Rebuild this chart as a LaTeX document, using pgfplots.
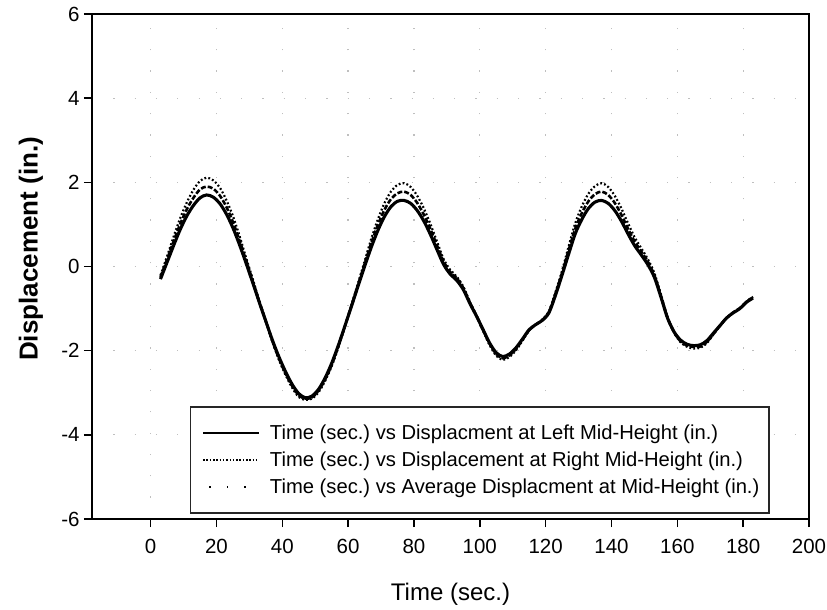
\documentclass[border=0pt]{standalone}
\usepackage{fontspec}
\setmainfont{Liberation Sans}
\usepackage{pgfplots}
\pgfplotsset{compat=1.18}
\usetikzlibrary{calc}
\frenchspacing
\begin{document}
\begin{tikzpicture}
\begin{axis}[
 scale only axis, width=717bp, height=505bp,
 xmin=-17.8, xmax=200, ymin=-6, ymax=6,
 xtick={0,20,...,200}, ytick={-6,-4,...,6},
 tick align=outside, major tick length=8bp,
 xtick pos=bottom, ytick pos=left,
 axis line style={line width=1.5bp},
 every tick/.style={line width=1.5bp, black},
 grid=major, major grid style={gray!50, line width=1.3bp, dash pattern=on 1.3bp off 20bp},
 ticklabel style={font=\fontsize{20.5bp}{24bp}\selectfont},
 xticklabel style={yshift=-9bp},
 yticklabel style={xshift=-1bp},
 /pgf/number format/assume math mode=true,
 xlabel={Time (sec.)},
 xlabel style={font=\fontsize{24bp}{28bp}\selectfont, at={(axis description cs:0.5,0)}, anchor=center, yshift=-75bp},
 legend style={at={(axis cs:11.9,-5.88)}, anchor=south west, draw=black!85, line width=1.5bp, fill=white,
   inner xsep=12bp, inner ysep=16bp, row sep=7bp, column sep=8bp, font=\fontsize{20.2bp}{24bp}\selectfont,
   nodes={inner sep=2bp}},
 legend cell align=left,
]
\addplot[black, line width=3.1bp, smooth, legend image code/.code={\draw[black, line width=1.3bp] (0bp,0bp) -- (56bp,0bp);}] coordinates {
(3,-0.30)(5,0.10)(7,0.50)(9,0.88)(11,1.20)(13,1.45)(15,1.63)(17,1.70)(19,1.65)(21,1.50)(23,1.25)(25,0.92)(27,0.52)(29,0.08)
(31,-0.38)(33,-0.85)(35,-1.30)(37,-1.75)(39,-2.15)(41,-2.50)(43,-2.80)(45,-3.02)(47,-3.12)(49,-3.08)(51,-2.92)(53,-2.65)(55,-2.30)(57,-1.88)(59,-1.42)
(61,-0.95)(63,-0.47)(65,0.00)(67,0.45)(69,0.85)(71,1.18)(73,1.42)(75,1.55)(77,1.57)(79,1.50)(81,1.33)(83,1.08)(85,0.76)(87,0.40)(89,0.05)
(91,-0.18)(93,-0.33)(95,-0.55)(97,-0.88)(99,-1.18)(101,-1.50)(103,-1.82)(105,-2.05)(107,-2.14)(109,-2.08)(111,-1.93)(113,-1.72)(115,-1.50)(117,-1.38)(119,-1.28)
(121,-1.10)(123,-0.68)(125,-0.20)(127,0.30)(129,0.78)(131,1.12)(133,1.38)(135,1.53)(137,1.57)(139,1.50)(141,1.33)(143,1.08)(145,0.78)(147,0.50)(149,0.28)
(151,0.05)(153,-0.25)(155,-0.72)(157,-1.22)(159,-1.55)(161,-1.75)(163,-1.85)(165,-1.88)(167,-1.86)(169,-1.76)(171,-1.58)(173,-1.40)(175,-1.22)(177,-1.10)(179,-1.00)
(181,-0.85)(183,-0.75)
};
\addlegendentry{\makebox[485bp][l]{Time (sec.) vs Displacment at Left Mid-Height (in.)}}
\addplot[black, line width=2.2bp, dash pattern=on 1.8bp off 2.2bp, smooth, legend image code/.code={\draw[black, line width=1.3bp, dash pattern=on 1.5bp off 1.8bp] (0bp,0bp) -- (56bp,0bp);}] coordinates {
(3,-0.21)(5,0.24)(7,0.71)(9,1.15)(11,1.52)(13,1.82)(15,2.03)(17,2.11)(19,2.05)(21,1.88)(23,1.58)(25,1.20)(27,0.73)(29,0.21)
(31,-0.29)(33,-0.81)(35,-1.30)(37,-1.79)(39,-2.22)(41,-2.58)(43,-2.88)(45,-3.10)(47,-3.17)(49,-3.14)(51,-2.99)(53,-2.72)(55,-2.37)(57,-1.93)(59,-1.43)
(61,-0.92)(63,-0.40)(65,0.12)(67,0.65)(69,1.11)(71,1.50)(73,1.78)(75,1.94)(77,1.98)(79,1.89)(81,1.68)(83,1.38)(85,1.01)(87,0.59)(89,0.18)
(91,-0.08)(93,-0.24)(95,-0.48)(97,-0.84)(99,-1.17)(101,-1.53)(103,-1.87)(105,-2.12)(107,-2.22)(109,-2.15)(111,-1.99)(113,-1.76)(115,-1.52)(117,-1.38)(119,-1.26)
(121,-1.06)(123,-0.61)(125,-0.10)(127,0.48)(129,1.03)(131,1.43)(133,1.73)(135,1.91)(137,1.98)(139,1.89)(141,1.68)(143,1.38)(145,1.03)(147,0.70)(149,0.44)
(151,0.18)(153,-0.15)(155,-0.66)(157,-1.20)(159,-1.57)(161,-1.80)(163,-1.91)(165,-1.95)(167,-1.93)(169,-1.82)(171,-1.61)(173,-1.41)(175,-1.22)(177,-1.09)(179,-0.99)
(181,-0.83)(183,-0.72)
};
\addlegendentry{\makebox[485bp][l]{Time (sec.) vs Displacement at Right Mid-Height (in.)}}
\addplot[black, line width=2.6bp, dash pattern=on 5bp off 2bp, smooth, legend image code/.code={\draw[black, line width=1.6bp, dash pattern=on 1.6bp off 16bp] (6bp,0bp) -- (56bp,0bp);}] coordinates {
(3,-0.25)(5,0.17)(7,0.60)(9,1.01)(11,1.36)(13,1.63)(15,1.83)(17,1.90)(19,1.85)(21,1.69)(23,1.42)(25,1.06)(27,0.62)(29,0.15)
(31,-0.34)(33,-0.83)(35,-1.30)(37,-1.77)(39,-2.19)(41,-2.54)(43,-2.84)(45,-3.06)(47,-3.14)(49,-3.11)(51,-2.95)(53,-2.69)(55,-2.34)(57,-1.90)(59,-1.42)
(61,-0.93)(63,-0.44)(65,0.06)(67,0.55)(69,0.98)(71,1.34)(73,1.60)(75,1.74)(77,1.78)(79,1.70)(81,1.51)(83,1.23)(85,0.89)(87,0.50)(89,0.12)
(91,-0.13)(93,-0.28)(95,-0.51)(97,-0.86)(99,-1.17)(101,-1.51)(103,-1.84)(105,-2.08)(107,-2.18)(109,-2.11)(111,-1.96)(113,-1.74)(115,-1.51)(117,-1.38)(119,-1.27)
(121,-1.08)(123,-0.64)(125,-0.15)(127,0.39)(129,0.90)(131,1.27)(133,1.55)(135,1.72)(137,1.78)(139,1.70)(141,1.51)(143,1.23)(145,0.90)(147,0.60)(149,0.36)
(151,0.12)(153,-0.20)(155,-0.69)(157,-1.21)(159,-1.56)(161,-1.78)(163,-1.88)(165,-1.91)(167,-1.90)(169,-1.79)(171,-1.60)(173,-1.40)(175,-1.22)(177,-1.09)(179,-0.99)
(181,-0.84)(183,-0.73)
};
\addlegendentry{\makebox[485bp][l]{Time (sec.) vs Average Displacment at Mid-Height (in.)}}
\end{axis}
\node[rotate=90, anchor=center, font=\fontsize{26bp}{30bp}\selectfont\bfseries] at ($(current axis.south west)!0.535!(current axis.north west) + (-61bp,0bp)$) {Displacement (in.)};
\pgfresetboundingbox
\path ([shift={(-92bp,-91bp)}]current axis.south west) rectangle ([shift={(18bp,14bp)}]current axis.north east);
\end{tikzpicture}
\end{document}
